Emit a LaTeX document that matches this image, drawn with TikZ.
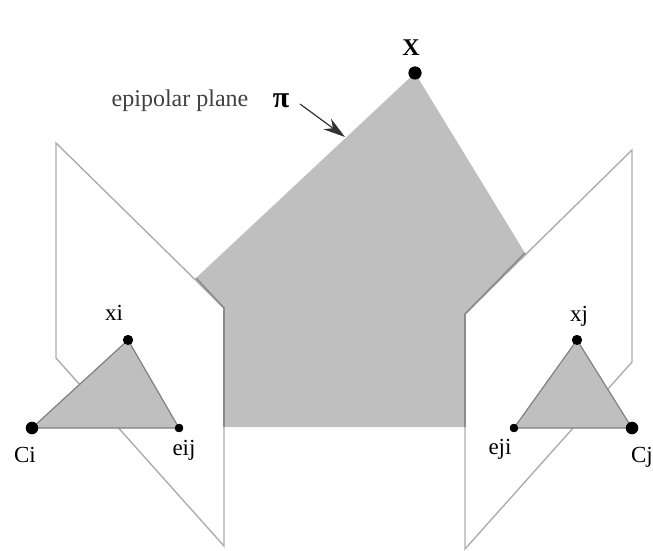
\documentclass[tikz,border=0pt]{standalone}
\usepackage{fontspec}
\setmainfont{Liberation Serif}
\usepackage{xcolor}
\usetikzlibrary{arrows.meta}
\definecolor{planegray}{gray}{0.75}
\definecolor{edgegray}{gray}{0.68}
\begin{document}
\begin{tikzpicture}[x=0.5pt,y=-0.5pt,>={Stealth[length=11pt,width=6.5pt]}]
  \tikzstyle{bigdot}=[circle,fill=black,inner sep=0pt,minimum size=6.2pt]
  \tikzstyle{smalldot}=[circle,fill=black,inner sep=0pt,minimum size=5pt]
  \tikzstyle{tinydot}=[circle,fill=black,inner sep=0pt,minimum size=4.2pt]
  \tikzstyle{lbl}=[inner sep=0pt,font=\fontsize{11.5}{12}\selectfont]
  \tikzstyle{frame}=[draw=edgegray,line width=0.7pt,line join=miter]
  \useasboundingbox (0,0) rectangle (653,551);
  % image planes
  \draw[frame] (56,143) -- (56,358) -- (224,546) -- (224,308) -- cycle;
  \draw[frame] (632,150) -- (632,362) -- (465,549) -- (465,314) -- cycle;
  % epipolar plane
  \node[bigdot] (X) at (415,73) {};
  \fill[planegray] (X.center) -- (525,253) -- (465,314) -- (465,427) -- (224,427) -- (224,308) -- (196,278) -- cycle;
  \draw[edgegray!80!black,line width=0.8pt] (196,278) -- (224,308) -- (224,427);
  \draw[edgegray!80!black,line width=0.8pt] (525,253) -- (465,314) -- (465,427);
  \node[bigdot,minimum size=6.6pt] at (X) {};
  % triangles
  \node[smalldot] (xi) at (128,340) {};
  \node[bigdot] (Ci) at (32,428) {};
  \node[tinydot] (eij) at (179,428) {};
  \node[smalldot] (xj) at (577,340) {};
  \node[tinydot] (eji) at (514,428) {};
  \node[bigdot] (Cj) at (632,428) {};
  \foreach \a/\b/\c in {xi/Ci/eij,xj/eji/Cj}
    \draw[fill=planegray,draw=gray,line width=0.6pt] (\a.center) -- (\b.center) -- (\c.center) -- cycle;
  \foreach \p/\s in {xi/smalldot,Ci/bigdot,eij/tinydot,xj/smalldot,eji/tinydot,Cj/bigdot}
    \node[\s] at (\p) {};
  % labels
  \node[lbl] (xilab) at (114,313) {xi};
  \node[lbl] (cilab) at (25,455) {Ci};
  \node[lbl] (eijlab) at (184,450) {eij};
  \node[lbl] (xjlab) at (579,316) {xj};
  \node[lbl] (ejilab) at (500,449) {eji};
  \node[lbl] (cjlab) at (642,457) {Cj};
  \node[lbl,font=\fontsize{12}{13}\selectfont\bfseries] (xlab) at (411,48) {X};
  \node[lbl,font=\fontsize{12}{13}\selectfont,text=black!75] (eplab) at (180,101) {epipolar plane};
  \node[lbl,font=\fontsize{15}{16}\selectfont\bfseries] (pilab) at (281,101) {π};
  \coordinate (pitip) at (345,137);
  \draw[->,line width=0.6pt,black!80] (300,104) -- (pitip);
\end{tikzpicture}
\end{document}
